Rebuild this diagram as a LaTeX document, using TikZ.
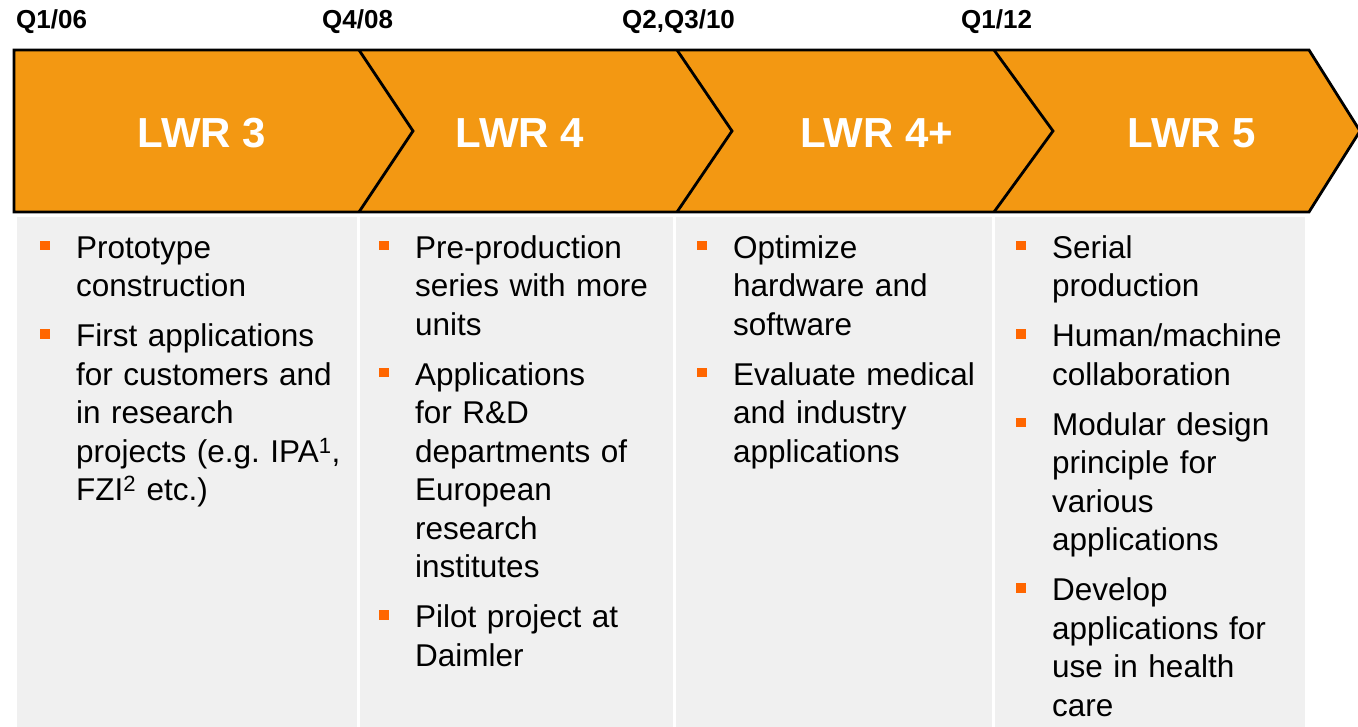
\documentclass[tikz,border=0pt]{standalone}
\usepackage{fontspec}
\setmainfont{Liberation Sans}
\usetikzlibrary{positioning}

\definecolor{chevfill}{RGB}{243,152,18}
\definecolor{panelgray}{RGB}{240,240,240}
\definecolor{bulletorange}{RGB}{255,102,0}

% one bullet point: orange square hanging left of the text
\newcommand\bitem[1]{\par\noindent\llap{\textcolor{bulletorange}{\rule[8pt]{9.5pt}{9.5pt}}\hspace{26.5pt}}\rule{0pt}{24pt}#1\par}

\begin{document}
\frenchspacing
\begin{tikzpicture}[
  x=1pt, y=1pt,
  panel/.style={fill=panelgray, inner sep=0, anchor=north west, minimum height=510pt},
  bullets/.style={anchor=north west, inner sep=0, text width=300pt, align=left,
    font={\fontsize{31.5}{38.5}\selectfont\setlength{\parskip}{11.5pt}\setlength{\parindent}{0pt}}},
  stage/.style={font=\fontsize{42}{48}\selectfont\bfseries, text=white, anchor=base, inner sep=0},
  date/.style={font=\fontsize{26}{30}\selectfont\bfseries, anchor=base west, inner sep=0},
  chev/.style={line width=2.8pt, line join=miter}
]
\useasboundingbox (0,0) rectangle (1358,-727);

% grey panels under the arrows
\node[panel, minimum width=340pt] (p1) at (17,-217) {};
\node[panel, minimum width=313pt] (p2) at (360,-217) {};
\node[panel, minimum width=316pt] (p3) at (676,-217) {};
\node[panel, minimum width=310pt] (p4) at (995,-217) {};

% chevron band
\fill[chevfill] (14,-50) -- (1309,-50) -- (1360,-131) -- (1309,-212) -- (14,-212) -- cycle;
\draw[chev] (14,-50) -- (1309,-50) -- (1360,-131) -- (1309,-212) -- (14,-212) -- cycle;
\foreach \n/\t in {359/413, 677/732, 994/1053}
  \draw[chev] (\n,-50) -- (\t,-131) -- (\n,-212);

% dates
\node[date] (d1) at (16,-28.5) {Q1/06};
\node[date] (d2) at (322,-28.5) {Q4/08};
\node[date] (d3) at (622,-28.5) {Q2,Q3/10};
\node[date] (d4) at (961,-28.5) {Q1/12};

% stages
\node[stage] (lwr3) at (202,-148) {LWR 3};
\node[stage] (lwr4) at (520,-148) {LWR 4};
\node[stage] (lwr4p) at (877,-148) {LWR 4+};
\node[stage] (lwr5) at (1192,-148) {LWR 5};

% bullet lists
\node[bullets] (items1) at (76,-208) {%
  \bitem{Prototype\\construction}
  \bitem{First applications\\for customers and\\in research\\projects (e.g. IPA\textsuperscript{1},\\FZI\textsuperscript{2} etc.)}};
\node[bullets] (items2) at (415,-208) {%
  \bitem{Pre-production\\series with more\\units}
  \bitem{Applications\\for R\&D\\departments of\\European\\research\\institutes}
  \bitem{Pilot project at\\Daimler}};
\node[bullets] (items3) at (733,-208) {%
  \bitem{Optimize\\hardware and\\software}
  \bitem{Evaluate medical\\and industry\\applications}};
\node[bullets] (items4) at (1052,-208) {%
  \bitem{Serial\\production}
  \bitem{Human/machine\\collaboration}
  \bitem{Modular design\\principle for\\various\\applications}
  \bitem{Develop\\applications for\\use in health\\care}};
\end{tikzpicture}
\end{document}
